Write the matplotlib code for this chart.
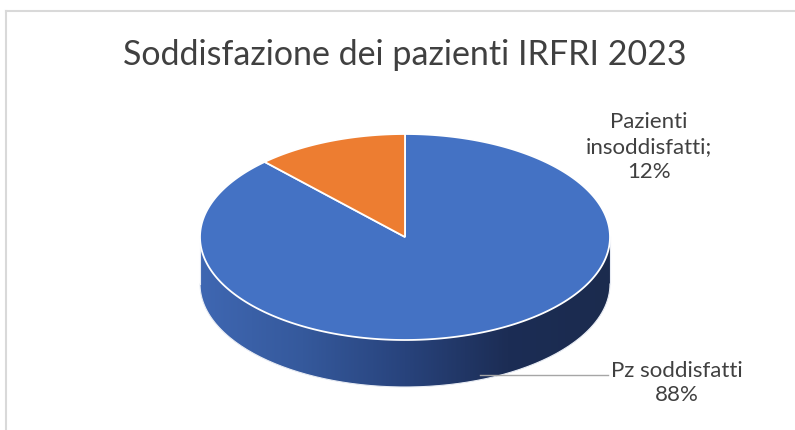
import numpy as np
import matplotlib
matplotlib.use("Agg")
import matplotlib.pyplot as plt
from matplotlib.patches import Polygon
from matplotlib.colors import LinearSegmentedColormap

# ---- data ----
categories = ["Pz soddisfatti", "Pazienti insoddisfatti"]
values = [88, 12]
label_texts = ["Pz soddisfatti\n88%", "Pazienti\ninsoddisfatti;\n12%"]
title = "Soddisfazione dei pazienti IRFRI 2023"
colors = ["#4472C4", "#ED7D31"]

plt.rcParams['font.family'] = ['Lato', 'DejaVu Sans']
TXT = "#404040"

W, H = 795, 430
fig = plt.figure(figsize=(7.95, 4.3), dpi=100)
ax = fig.add_axes([0, 0, 1, 1])

cx, cy = 405, 237
rx, ry = 205, 103
depth = 47

def arc(t1, t2, n=200, dy=0.0):
    th = np.radians(np.linspace(t1, t2, n))
    return np.column_stack([cx + rx * np.cos(th), cy - ry * np.sin(th) + dy])

# side wall (front half)
top = arc(180, 360)
bot = arc(360, 180, dy=depth)
side = Polygon(np.vstack([top, bot]), closed=True, facecolor='none', edgecolor='none')
ax.add_patch(side)
cmap = LinearSegmentedColormap.from_list(
    'side', ['#3F67B2', '#35599C', '#28437C', '#1C2D55', '#1B2B4E'])
grad = np.linspace(0, 1, 256)[None, :]
im = ax.imshow(grad, cmap=cmap, extent=[cx - rx, cx + rx, cy + ry + depth + 2, cy - 2],
               aspect='auto', zorder=1, interpolation='bilinear')
im.set_clip_path(side)
ax.plot(bot[:, 0], bot[:, 1], color='#E8ECF4', lw=0.8, zorder=2)
ax.plot([cx - rx, cx - rx], [cy, cy + depth], color='#E8ECF4', lw=0.8, zorder=2)
ax.plot([cx + rx, cx + rx], [cy, cy + depth], color='#E8ECF4', lw=0.8, zorder=2)

# top wedges
total = float(sum(values))
start = 90.0
for v, c in zip(values, colors):
    sweep = 360.0 * v / total
    pts = arc(start, start - sweep, n=300)
    poly = np.vstack([[cx, cy], pts])
    ax.add_patch(Polygon(poly, closed=True, facecolor=c, edgecolor='white',
                         lw=1.3, joinstyle='miter', zorder=3))
    start -= sweep

# labels
ax.text(649, 147, label_texts[1], ha='center', va='center', fontsize=16,
        color=TXT, linespacing=1.3, zorder=5)
ax.text(677, 383, label_texts[0], ha='center', va='center', fontsize=16,
        color=TXT, linespacing=1.3, zorder=5)
ax.plot([480, 608], [375, 375], color='#A6A6A6', lw=1.0, zorder=4)

# title
ax.text(405, 55, title, ha='center', va='center', fontsize=24.5, color=TXT, zorder=5)

# chart border
ax.plot([5.5, 5.5], [430, 10.5], color='#D9D9D9', lw=1.5, zorder=6)
ax.plot([5.5, 795], [10.5, 10.5], color='#D9D9D9', lw=1.5, zorder=6)

ax.set_xlim(0, W)
ax.set_ylim(H, 0)
ax.axis('off')
fig.savefig('out.png', dpi=100)
